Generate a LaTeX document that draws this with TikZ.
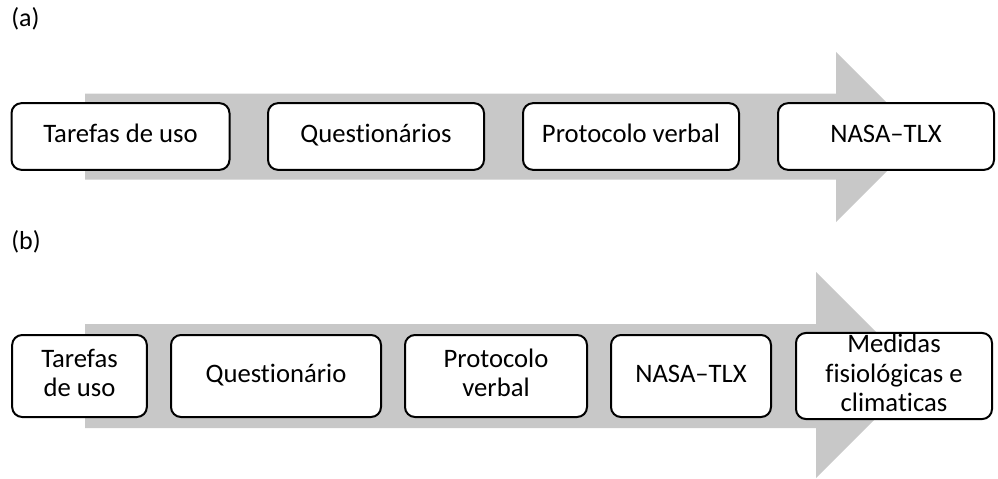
\documentclass[tikz,border=0pt]{standalone}
\usepackage{fontspec}
\setmainfont[Ligatures={NoCommon}]{Carlito}
\definecolor{arrowgray}{RGB}{200,200,200}
\newcommand{\lnstrut}{\rule[-5.6pt]{0pt}{20.6pt}}
\tikzset{
  stepbox/.style={draw=black, fill=white, line width=1.5pt, rounded corners=7.5pt,
    inner sep=0pt, align=center, font=\fontsize{20}{22}\selectfont},
  lbl/.style={anchor=base west, inner sep=0pt, font=\fontsize{19.5}{22}\selectfont},
  bigarrow/.style={fill=arrowgray, draw=none}
}
\begin{document}
\begin{tikzpicture}[x=0.75pt, y=-0.75pt]
\useasboundingbox (0,0) rectangle (998,478);
% labels
\node[lbl] (la) at (11,27) {(a)};
\node[lbl] (lb) at (11,249) {(b)};
% arrow (a)
\fill[bigarrow] (85,93.5) -- (836,93.5) -- (836,52) -- (921,137) -- (836,222) -- (836,179.5) -- (85,179.5) -- cycle;
% arrow (b)
\fill[bigarrow] (85,324) -- (816,324) -- (816,272) -- (919,375) -- (816,478) -- (816,428) -- (85,428) -- cycle;
% boxes (a)
\node[stepbox, minimum width=163.5pt, minimum height=50pt] (a1) at (120.5,136.5) {\lnstrut Tarefas de uso};
\node[stepbox, minimum width=162pt, minimum height=50pt] (a2) at (376,136.5) {\lnstrut Questionários};
\node[stepbox, minimum width=162pt, minimum height=50pt] (a3) at (631,136.5) {\lnstrut Protocolo verbal};
\node[stepbox, minimum width=162pt, minimum height=50pt] (a4) at (886,136.5) {\lnstrut NASA–TLX};
% boxes (b)
\node[stepbox, minimum width=101pt, minimum height=61.5pt] (b1) at (79.5,376) {\lnstrut Tarefas\\\lnstrut de uso};
\node[stepbox, minimum width=157.5pt, minimum height=61.5pt] (b2) at (276,376) {\lnstrut Questionário};
\node[stepbox, minimum width=136.5pt, minimum height=61.5pt] (b3) at (496,376) {\lnstrut Protocolo\\\lnstrut verbal};
\node[stepbox, minimum width=120pt, minimum height=61.5pt] (b4) at (691,376) {\lnstrut NASA–TLX};
\node[stepbox, minimum width=147pt, minimum height=61.5pt] (b5) at (894,376) {\lnstrut Medidas\\\lnstrut fisiológicas e\\\lnstrut climaticas};
\end{tikzpicture}
\end{document}
